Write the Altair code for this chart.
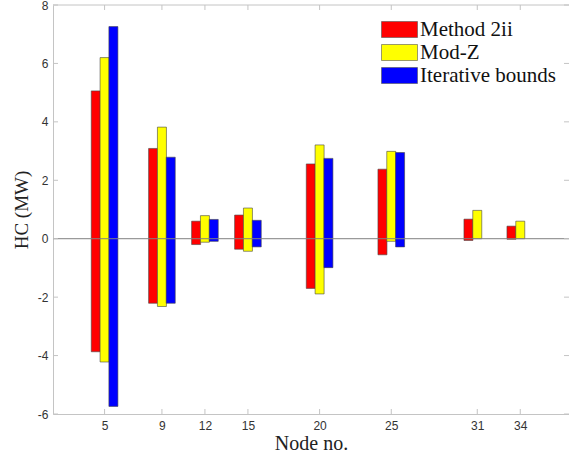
import altair as alt
import pandas as pd

nodes = [5, 9, 12, 15, 20, 25, 31, 34]
methods = ["Method 2ii", "Mod-Z", "Iterative bounds"]
colors = ["#ff0000", "#ffff00", "#0000ff"]

m2ii_low = [-3.87, -2.21, -0.20, -0.36, -1.70, -0.55, -0.06, -0.02]
m2ii_high = [5.06, 3.09, 0.60, 0.81, 2.56, 2.38, 0.67, 0.43]
modz_low = [-4.22, -2.32, -0.12, -0.43, -1.89, -0.09, 0.0, 0.0]
modz_high = [6.20, 3.82, 0.79, 1.05, 3.21, 2.99, 0.97, 0.60]
iter_low = [-5.74, -2.21, -0.09, -0.28, -0.99, -0.28, None, None]
iter_high = [7.26, 2.79, 0.66, 0.63, 2.75, 2.95, None, None]

y_ticks = [-6, -4, -2, 0, 2, 4, 6, 8]

W, H = 516, 409
BAR_W_UNITS = 0.615

rows = []
for mi, (name, lo, hi) in enumerate(zip(methods, [m2ii_low, modz_low, iter_low],
                                        [m2ii_high, modz_high, iter_high])):
    for n, l, h in zip(nodes, lo, hi):
        if l is None or h is None:
            continue
        rows.append({"node": n, "method": name, "idx": mi, "low": l, "high": h})
df = pd.DataFrame(rows)
df["pos"] = df["node"] + (df["idx"] - 1) * BAR_W_UNITS

xscale = alt.Scale(domain=[1.75, 37.05], nice=False, zero=False)
yscale = alt.Scale(domain=[-6, 8], nice=False, zero=False)
axis_color = "#c4c4c4"
label_color = "#333333"

bars = alt.Chart(df).mark_bar(size=9, stroke="#444444", strokeWidth=0.6, opacity=1).encode(
    x=alt.X("pos:Q", scale=xscale, title="Node no.",
            axis=alt.Axis(values=nodes, ticks=False, tickSize=0, grid=False,
                          domainColor=axis_color, labelColor=label_color,
                          labelFont="Liberation Sans", labelFontSize=12, labelPadding=6,
                          titleFont="Liberation Serif", titleFontSize=20,
                          titleFontWeight="normal", titleColor="#222222", titlePadding=2)),
    y=alt.Y("low:Q", scale=yscale, title="HC (MW)",
            axis=alt.Axis(values=y_ticks, ticks=False, tickSize=0, grid=False,
                          domainColor=axis_color, labelColor=label_color,
                          labelFont="Liberation Sans", labelFontSize=12, labelPadding=5,
                          labelExpr="'' + datum.value",
                          titleFont="Liberation Serif", titleFontSize=19,
                          titleFontWeight="normal", titleColor="#222222", titlePadding=6)),
    y2="high:Q",
    color=alt.Color("method:N", scale=alt.Scale(domain=methods, range=colors),
                    legend=alt.Legend(title=None, orient="none", legendX=336, legendY=14,
                                      symbolType="M-2.25,-1H2.25V1H-2.25Z", symbolSize=256,
                                      symbolStrokeColor="#555555", symbolStrokeWidth=0.6,
                                      symbolOpacity=1, labelOffset=10,
                                      labelFont="Liberation Serif", labelFontSize=21,
                                      labelColor="#111111", rowPadding=1, padding=0,
                                      labelLimit=300)),
)

zero_df = pd.DataFrame({"y": [0]})
zero = alt.Chart(zero_df).mark_rule(color="#808080", strokeWidth=1).encode(y=alt.Y("y:Q", scale=yscale))

xt = pd.DataFrame({"v": nodes})
yt = pd.DataFrame({"v": y_ticks})
tick_style = dict(color=axis_color, strokeWidth=1)
bottom_ticks = alt.Chart(xt).mark_rule(**tick_style).encode(
    x=alt.X("v:Q", scale=xscale), y=alt.value(H), y2=alt.value(H - 5))
top_ticks = alt.Chart(xt).mark_rule(**tick_style).encode(
    x=alt.X("v:Q", scale=xscale), y=alt.value(0), y2=alt.value(5))
left_ticks = alt.Chart(yt).mark_rule(**tick_style).encode(
    y=alt.Y("v:Q", scale=yscale), x=alt.value(0), x2=alt.value(5))
right_ticks = alt.Chart(yt).mark_rule(**tick_style).encode(
    y=alt.Y("v:Q", scale=yscale), x=alt.value(W - 5), x2=alt.value(W))
top_border = alt.Chart(zero_df).mark_rule(**tick_style).encode(
    y=alt.value(0), x=alt.value(0), x2=alt.value(W))

chart = alt.layer(bars, zero, bottom_ticks, top_ticks, left_ticks, right_ticks, top_border).properties(
    width=W, height=H,
    autosize=alt.AutoSizeParams(type="none"),
    padding={"left": 53, "top": 5, "right": 0, "bottom": 45},
    background="white",
).configure_view(stroke=None)

chart.save("out.html", embed_options={"renderer": "svg", "actions": False})
